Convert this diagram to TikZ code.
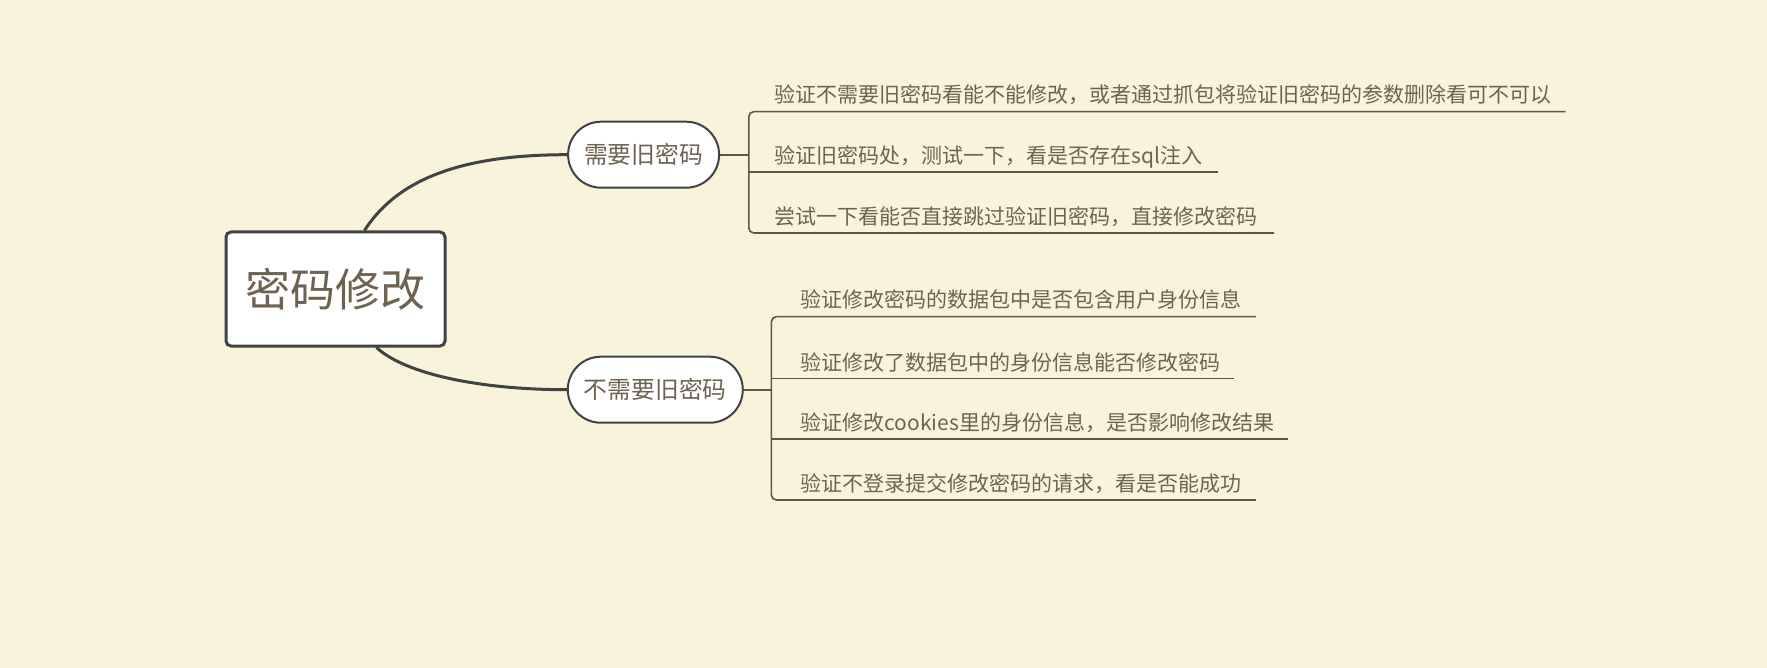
\documentclass[tikz,border=0pt]{standalone}
\usepackage{fontspec}
\setmainfont{Noto Sans CJK SC}
\usetikzlibrary{shapes.misc}
\definecolor{bg}{HTML}{FAF3DC}
\definecolor{txt}{HTML}{6E6251}
\definecolor{edge}{HTML}{404343}
\definecolor{brk}{HTML}{5E5645}
\tikzset{
  rootbox/.style={draw=edge, line width=3pt, fill=white, rounded corners=5pt,
    minimum width=219pt, minimum height=114pt, inner sep=0pt, text=txt,
    font=\fontsize{45}{45}\selectfont},
  pill/.style={draw=edge, line width=2pt, fill=white, rounded rectangle,
    minimum height=66pt, inner sep=0pt, text=txt,
    font=\fontsize{23.8}{23.8}\selectfont},
  leaf/.style={anchor=base west, inner sep=0pt, text=txt,
    font=\fontsize{21}{21}\selectfont},
  curve/.style={draw=edge, line width=3pt},
  stem/.style={draw=brk, line width=2pt},
  brack/.style={draw=brk, line width=1.6pt, rounded corners=5pt},
}
\begin{document}
\begin{tikzpicture}[x=1pt,y=-1pt]
\fill[bg] (0,0) rectangle (1767,668);
\useasboundingbox (0,0) rectangle (1767,668);

\node[rootbox] (root) at (335.5,289) {密码修改};
\node[pill, minimum width=151pt] (n1) at (643.6,154.7) {需要旧密码};
\node[pill, minimum width=175pt] (n2) at (655.3,389.7) {不需要旧密码};

% leaves branch 1
\node[leaf] (a1) at (774.6,103) {验证不需要旧密码看能不能修改，或者通过抓包将验证旧密码的参数删除看可不可以};
\node[leaf] (a2) at (774.6,164) {验证旧密码处，测试一下，看是否存在sql注入};
\node[leaf] (a3) at (774.6,225) {尝试一下看能否直接跳过验证旧密码，直接修改密码};
% leaves branch 2
\node[leaf] (b1) at (800.4,308) {验证修改密码的数据包中是否包含用户身份信息};
\node[leaf] (b2) at (800.4,370) {验证修改了数据包中的身份信息能否修改密码};
\node[leaf] (b3) at (800.4,430.5) {验证修改cookies里的身份信息，是否影响修改结果};
\node[leaf] (b4) at (800.4,491.5) {验证不登录提交修改密码的请求，看是否能成功};

% bracket coordinates
\coordinate (k1) at (748.8,154.7);
\coordinate (k2) at (771.4,389.7);
\coordinate (e1) at (1565.7,111.7);
\coordinate (e2) at (1217.8,172.3);
\coordinate (e3) at (1274,233);
\coordinate (f1) at (1255.8,316.7);
\coordinate (f2) at (1234.4,378.3);
\coordinate (f3) at (1288,439);
\coordinate (f4) at (1255.8,500);

% curves
\draw[curve] ([xshift=29pt]root.north) .. controls (400,175) and (470,154.7) .. (n1.west);
\draw[curve] ([xshift=41pt]root.south) .. controls (405,374) and (480,389.7) .. (n2.west);

% branch 1 bracket
\draw[stem] (n1.east) -- (k1);
\draw[brack] (e1) -- (e1 -| k1) -- (e3 -| k1) -- (e3);
\draw[brack] (e2 -| k1) -- (e2);

% branch 2 bracket
\draw[stem] (n2.east) -- (k2);
\draw[brack] (f1) -- (f1 -| k2) -- (f4 -| k2) -- (f4);
\draw[brack] (f2 -| k2) -- (f2);
\draw[brack] (f3 -| k2) -- (f3);
\end{tikzpicture}
\end{document}
